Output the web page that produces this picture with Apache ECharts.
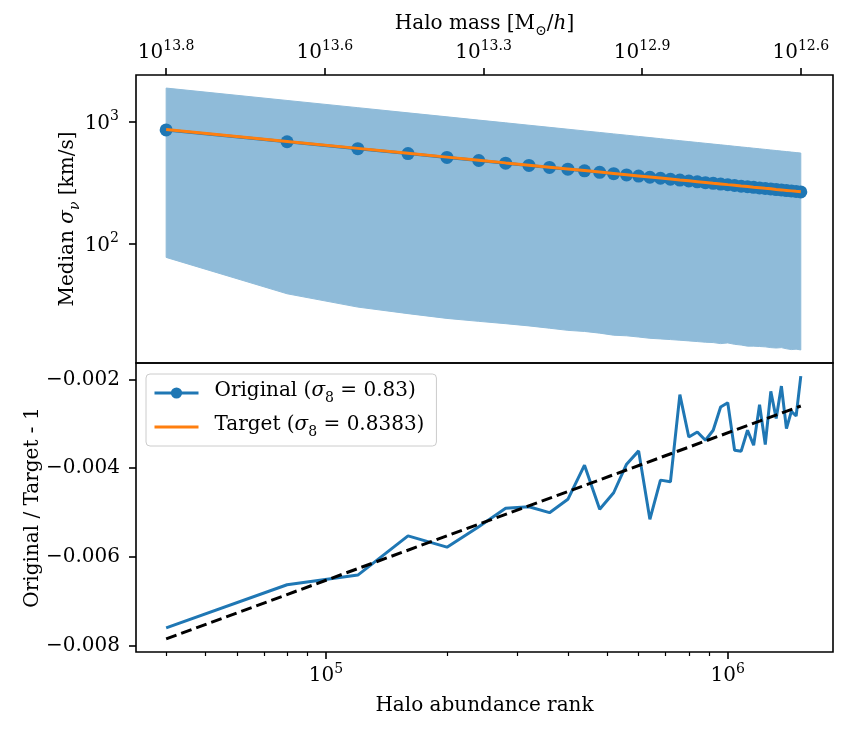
<!DOCTYPE html>
<html>
<head>
<meta charset="utf-8">
<script src="https://cdn.jsdelivr.net/npm/echarts@6/dist/echarts.min.js"></script>
<style>
html,body{margin:0;padding:0;background:#fff;}
#chart{width:856px;height:732px;}
</style>
</head>
<body>
<div id="chart"></div>
<script>
// ---------------- data ----------------
const ranks = [40000, 80000, 120000, 160000, 200000, 240000, 280000, 320000, 360000, 400000,
  440000, 480000, 520000, 560000, 600000, 640000, 680000, 720000, 760000, 800000,
  840000, 880000, 920000, 960000, 1000000, 1040000, 1080000, 1120000, 1160000, 1200000,
  1240000, 1280000, 1320000, 1360000, 1400000, 1440000, 1480000, 1520000];

const originalSigma = [853.5, 682.9, 599.0, 546.4, 508.0, 479.3, 456.2, 437.1, 420.8, 406.8,
  394.7, 383.4, 373.8, 365.2, 357.2, 349.3, 342.8, 336.5, 331.3, 325.6,
  320.6, 315.7, 311.3, 307.3, 303.2, 299.1, 295.4, 292.2, 288.7, 285.9,
  282.5, 280.1, 277.1, 274.7, 271.8, 269.5, 267.0, 265.0];

const targetSigma = [860.0, 687.5, 602.9, 549.4, 511.0, 481.9, 458.4, 439.2, 422.9, 408.7,
  396.3, 385.3, 375.5, 366.6, 358.5, 351.1, 344.3, 338.0, 332.1, 326.7,
  321.6, 316.8, 312.3, 308.1, 304.0, 300.2, 296.5, 293.1, 289.7, 286.6,
  283.5, 280.7, 277.9, 275.3, 272.7, 270.2, 267.8, 265.5];

const bandUpper = [1883, 1490, 1300, 1179, 1094, 1028, 976.5, 933.4, 897, 865.7,
  838.2, 814.1, 792.5, 772.9, 755.1, 739.0, 724.0, 710.1, 697.3, 685.2,
  674.1, 663.7, 653.8, 644.6, 635.8, 627.3, 619.4, 611.9, 604.7, 597.9,
  591.3, 584.8, 578.8, 573.0, 567.4, 562.1, 557.0, 552.0];

const bandLower = [76.9, 38.7, 30.1, 26.6, 24.3, 23.0, 22.0, 21.1, 20.2, 19.4,
  19.0, 18.4, 17.7, 17.5, 17.1, 16.7, 16.5, 16.3, 16.1, 15.9,
  15.7, 15.5, 15.4, 15.1, 15.3, 14.9, 14.7, 14.4, 14.4, 14.3,
  14.2, 14.0, 13.9, 14.0, 13.7, 13.5, 13.6, 13.4];

const ratio = [-0.007602, -0.006629, -0.006411, -0.005528, -0.005782, -0.005319, -0.004906, -0.004870, -0.005004, -0.004703,
  -0.003933, -0.004928, -0.004555, -0.003910, -0.003611, -0.005153, -0.004270, -0.004308, -0.002344, -0.003297,
  -0.003184, -0.003371, -0.003146, -0.002622, -0.002524, -0.003596, -0.003618, -0.003146, -0.003483, -0.002569,
  -0.003467, -0.002270, -0.002883, -0.002151, -0.003108, -0.002719, -0.002825, -0.001926];

const fitRanks = [40000, 1520000];
const fitRatio = [-0.00785, -0.00260];

// tick labels
const topTickRanks = [40000, 99314, 246600, 612200, 1520000];
const topTickMassExp = ['13.8', '13.6', '13.3', '12.9', '12.6'];
const bottomTickRanks = [100000, 1000000];
const minorTickRanks = [40000, 50000, 60000, 70000, 80000, 90000,
  200000, 300000, 400000, 500000, 600000, 700000, 800000, 900000];
const sigmaTicks = [100, 1000];
const ratioTicks = [-0.008, -0.006, -0.004, -0.002];

const legendNames = ['Original', 'Target'];
const legendSigma8 = ['0.83', '0.8383'];

// ---------------- chart ----------------
const FONT = 'DejaVu Serif';
const BLUE = '#1f77b4', ORANGE = '#ff7f0e';
const X_MIN = Math.pow(10, 4.527), X_MAX = Math.pow(10, 6.262);
const supRich = {
  b: {fontSize: 20, fontFamily: FONT, color: '#000', verticalAlign: 'bottom'},
  s: {fontSize: 14, fontFamily: FONT, color: '#000', verticalAlign: 'bottom', padding: [0, 0, 10, 0]}
};
function pow10Label(v) {
  const e = Math.round(Math.log10(v));
  return '{b|10}{s|' + e + '}';
}
function nearestIdx(arr, v) {
  let best = 0, bd = Infinity;
  arr.forEach((a, i) => { const d = Math.abs(Math.log10(a) - Math.log10(v)); if (d < bd) { bd = d; best = i; } });
  return best;
}

const chart = echarts.init(document.getElementById('chart'), null, {renderer: 'canvas'});

const grid0 = {left: 136, top: 75, width: 697, height: 288, show: true, borderColor: '#000', borderWidth: 1.6, backgroundColor: 'transparent', z: 10};
const grid1 = {left: 136, top: 363, width: 697, height: 289, show: true, borderColor: '#000', borderWidth: 1.6, backgroundColor: 'transparent', z: 10};

const option = {
  animation: false,
  backgroundColor: '#fff',
  textStyle: {fontFamily: FONT},
  grid: [grid0, grid1],
  legend: {
    orient: 'vertical',
    left: 146, top: 374,
    data: [
      {name: 'Original'},
      {name: 'Target', itemStyle: {color: 'rgba(0,0,0,0)', borderWidth: 0}}
    ],
    backgroundColor: 'rgba(255,255,255,0.8)',
    borderColor: '#cccccc', borderWidth: 1, borderRadius: 4,
    padding: [7, 12, 7, 7],
    itemGap: 10,
    itemWidth: 44, itemHeight: 14,
    lineStyle: {width: 3},
    formatter: function (name) {
      const i = legendNames.indexOf(name);
      return '{f|' + name + ' (}{i|σ}{sub|8}{t| = ' + legendSigma8[i] + ')}';
    },
    textStyle: {
      fontFamily: FONT, fontSize: 20, color: '#000',
      rich: {
        f: {fontSize: 20, fontFamily: FONT, verticalAlign: 'bottom', padding: [0, 0, 4, 11]},
        t: {fontSize: 20, fontFamily: FONT, verticalAlign: 'bottom', padding: [0, 0, 4, 0]},
        i: {fontSize: 20, fontFamily: FONT, fontStyle: 'italic', verticalAlign: 'bottom', padding: [0, 0, 4, 0]},
        sub: {fontSize: 14, fontFamily: FONT, verticalAlign: 'bottom', padding: [0, 0, 0, 0]}
      }
    }
  },
  xAxis: [
    { // 0: top panel bottom (shared)
      type: 'log', gridIndex: 0, position: 'bottom', min: X_MIN, max: X_MAX,
      axisLine: {show: false}, axisTick: {show: false}, axisLabel: {show: false}, splitLine: {show: false}
    },
    { // 1: top panel, halo mass
      type: 'log', gridIndex: 0, position: 'top', min: X_MIN, max: X_MAX,
      axisLine: {show: false}, splitLine: {show: false},
      axisTick: {show: true, customValues: topTickRanks, length: 7, lineStyle: {color: '#000', width: 1.6}},
      axisLabel: {
        show: true, customValues: topTickRanks, margin: 12,
        formatter: function (v) { return '{b|10}{s|' + topTickMassExp[nearestIdx(topTickRanks, v)] + '}'; },
        rich: supRich
      },
      name: '{t|Halo mass [M}{sub|⊙}{t|/}{i|h}{t|]}',
      nameLocation: 'middle', nameGap: 37, nameMoveOverlap: false,
      nameTextStyle: {
        fontFamily: FONT, fontSize: 20, color: '#000',
        rich: {
          t: {fontSize: 20, fontFamily: FONT, verticalAlign: 'bottom', padding: [0, 0, 4, 0]},
          i: {fontSize: 20, fontFamily: FONT, fontStyle: 'italic', verticalAlign: 'bottom', padding: [0, 0, 4, 0]},
          sub: {fontSize: 14, fontFamily: FONT, verticalAlign: 'bottom'}
        }
      }
    },
    { // 2: bottom panel, rank
      type: 'log', gridIndex: 1, position: 'bottom', min: X_MIN, max: X_MAX,
      axisLine: {show: false}, splitLine: {show: false},
      axisTick: {show: true, customValues: bottomTickRanks, length: 7, lineStyle: {color: '#000', width: 1.6}},
      axisLabel: {show: true, customValues: bottomTickRanks, margin: 10, formatter: pow10Label, rich: supRich},
      name: 'Halo abundance rank', nameLocation: 'middle', nameGap: 44, nameMoveOverlap: false,
      nameTextStyle: {fontFamily: FONT, fontSize: 20, color: '#000'}
    },
    { // 3: bottom panel minor ticks
      type: 'log', gridIndex: 1, position: 'bottom', min: X_MIN, max: X_MAX,
      axisLine: {show: false}, splitLine: {show: false}, axisLabel: {show: false},
      axisTick: {show: true, customValues: minorTickRanks, length: 4, lineStyle: {color: '#000', width: 1.2}}
    }
  ],
  yAxis: [
    {
      type: 'log', gridIndex: 0, min: Math.pow(10, 1.020), max: Math.pow(10, 3.382),
      axisLine: {show: false}, splitLine: {show: false},
      axisTick: {show: true, customValues: sigmaTicks, length: 7, lineStyle: {color: '#000', width: 1.6}},
      axisLabel: {show: true, customValues: sigmaTicks, margin: 17, formatter: pow10Label, rich: supRich},
      name: '{t|Median }{i|σ}{sub|ν}{t| [km/s]}',
      nameLocation: 'middle', nameRotate: 90, nameGap: 54, nameMoveOverlap: false,
      nameTextStyle: {
        fontFamily: FONT, fontSize: 20, color: '#000',
        rich: {
          t: {fontSize: 20, fontFamily: FONT, verticalAlign: 'bottom', padding: [0, 0, 4, 0]},
          i: {fontSize: 20, fontFamily: FONT, fontStyle: 'italic', verticalAlign: 'bottom', padding: [0, 0, 4, 0]},
          sub: {fontSize: 14, fontFamily: FONT, fontStyle: 'italic', verticalAlign: 'bottom'}
        }
      }
    },
    {
      type: 'value', gridIndex: 1, min: -0.008145, max: -0.00163,
      axisLine: {show: false}, splitLine: {show: false},
      axisTick: {show: true, customValues: ratioTicks, length: 7, lineStyle: {color: '#000', width: 1.6}},
      axisLabel: {
        show: true, customValues: ratioTicks, margin: 16,
        fontFamily: FONT, fontSize: 20, color: '#000',
        formatter: function (v) { return (v < 0 ? '\u2212' : '') + Math.abs(v).toFixed(3); }
      },
      name: 'Original / Target - 1',
      nameLocation: 'middle', nameRotate: 90, nameGap: 93, nameMoveOverlap: false,
      nameTextStyle: {fontFamily: FONT, fontSize: 20, color: '#000'}
    }
  ],
  series: [
    {
      name: 'band', type: 'custom', xAxisIndex: 0, yAxisIndex: 0, silent: true, z: 1,
      clip: true,
      data: [[ranks[0], bandUpper[0]]],
      renderItem: function (params, api) {
        const pts = [];
        for (let i = 0; i < ranks.length; i++) pts.push(api.coord([ranks[i], bandUpper[i]]));
        for (let i = ranks.length - 1; i >= 0; i--) pts.push(api.coord([ranks[i], bandLower[i]]));
        return {type: 'polygon', shape: {points: pts},
          style: {fill: 'rgba(31,119,180,0.5)', stroke: 'rgba(143,187,217,1)', lineWidth: 1}};
      }
    },
    {
      name: 'Original', type: 'line', xAxisIndex: 0, yAxisIndex: 0, z: 3,
      data: ranks.map((r, i) => [r, originalSigma[i]]),
      symbol: 'circle', symbolSize: 13, showSymbol: true,
      lineStyle: {color: BLUE, width: 3}, itemStyle: {color: BLUE, borderWidth: 0},
      emphasis: {disabled: true}
    },
    {
      name: 'Target', type: 'line', xAxisIndex: 0, yAxisIndex: 0, z: 4,
      data: ranks.map((r, i) => [r, targetSigma[i]]),
      symbol: 'none', showSymbol: false,
      lineStyle: {color: ORANGE, width: 3}, itemStyle: {color: ORANGE},
      emphasis: {disabled: true}
    },
    {
      name: 'ratio', type: 'line', xAxisIndex: 2, yAxisIndex: 1, z: 3,
      data: ranks.map((r, i) => [r, ratio[i]]),
      symbol: 'none', showSymbol: false,
      lineStyle: {color: BLUE, width: 3}, itemStyle: {color: BLUE},
      emphasis: {disabled: true}
    },
    {
      name: 'fit', type: 'line', xAxisIndex: 2, yAxisIndex: 1, z: 4,
      data: fitRanks.map((r, i) => [r, fitRatio[i]]),
      symbol: 'none', showSymbol: false,
      lineStyle: {color: '#000', width: 3, type: [11, 5]}, itemStyle: {color: '#000'},
      emphasis: {disabled: true}
    }
  ]
};
chart.setOption(option);
</script>
</body>
</html>
